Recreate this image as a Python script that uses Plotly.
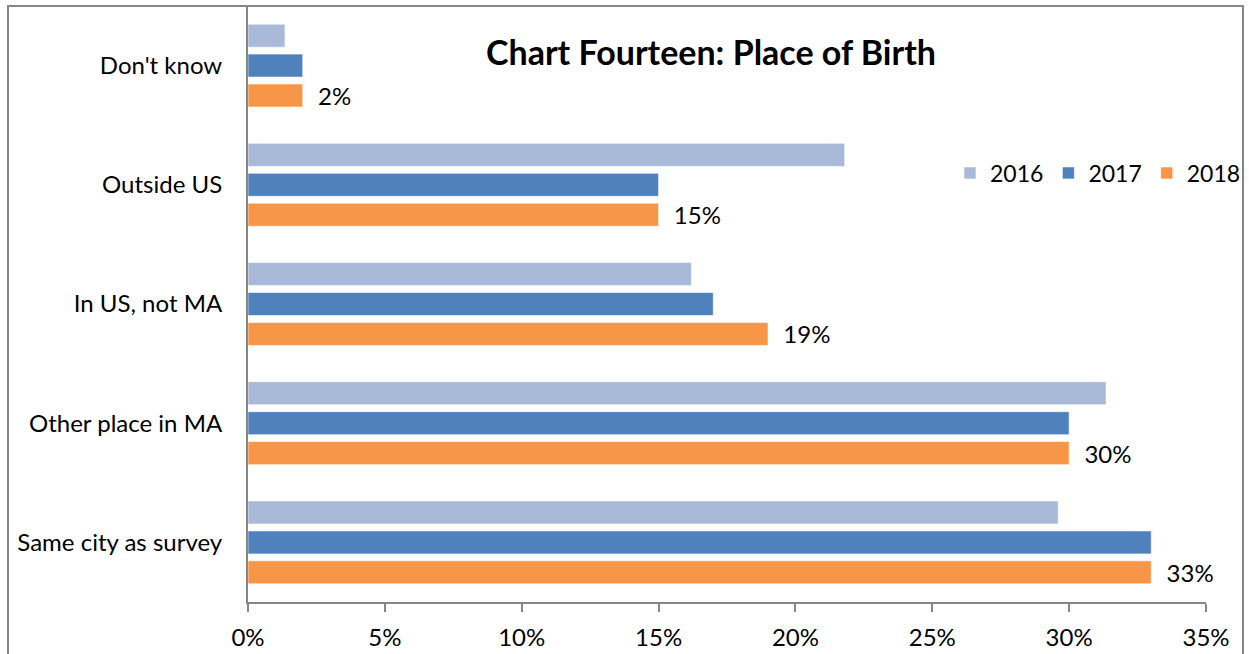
import plotly.graph_objects as go

categories = ["Don't know", "Outside US", "In US, not MA", "Other place in MA", "Same city as survey"]
years = ["2016", "2017", "2018"]
v2016 = [0.0135, 0.218, 0.162, 0.3135, 0.296]
v2017 = [0.020, 0.150, 0.170, 0.300, 0.330]
v2018 = [0.020, 0.150, 0.190, 0.300, 0.330]
labels2018 = ["2%", "15%", "19%", "30%", "33%"]
colors = ["#A9B9D8", "#4F81BD", "#F79646"]

FONT = "Lato, Carlito, 'Open Sans', sans-serif"
FS = 24

fig = go.Figure()
for name, vals, col in zip(years, [v2016, v2017, v2018], colors):
    kw = {}
    if name == "2018":
        kw = dict(text=["\u00a0\u00a0" + t for t in labels2018], textposition="outside",
                  textfont=dict(size=FS, color="#000000", family=FONT), cliponaxis=False)
    fig.add_trace(go.Bar(name=name, y=categories, x=vals, orientation="h",
                         marker=dict(color=col, line=dict(color="rgba(255,255,255,0.6)", width=1)),
                         **kw))

fig.update_layout(
    width=1249, height=654,
    margin=dict(l=248, r=43, t=6, b=52, autoexpand=False),
    barmode="group", bargap=0.247, bargroupgap=0.23,
    uniformtext=dict(minsize=FS, mode="show"),
    plot_bgcolor="white", paper_bgcolor="white",
    font=dict(family=FONT, size=FS, color="#000000"),
    title=dict(text="<b>Chart Fourteen: Place of Birth</b>", x=711 / 1249, xanchor="center",
               xref="container", y=1 - 53 / 654, yref="container", yanchor="middle",
               font=dict(size=34, family=FONT, color="#000000")),
    legend=dict(orientation="h", xref="container", yref="container",
                x=1246 / 1249, xanchor="right", y=1 - 173 / 654, yanchor="middle",
                font=dict(size=FS - 1, family=FONT), bgcolor="rgba(0,0,0,0)",
                itemwidth=30, traceorder="normal"),
    showlegend=True,
    shapes=[dict(type="rect", xref="paper", yref="paper", x0=-240 / 958, x1=995 / 958,
                 y0=-0.3, y1=1.0, line=dict(color="#868686", width=2), layer="below")],
)
fig.update_xaxes(range=[0, 0.35], dtick=0.05, tickformat=".0%", showgrid=False,
                 showline=True, linecolor="#868686", linewidth=2, ticks="outside",
                 ticklen=8, tickwidth=2, tickcolor="#868686", zeroline=False,
                 ticklabelstandoff=5,
                 tickfont=dict(size=FS, family=FONT, color="#000000"))
fig.update_yaxes(autorange="reversed", showgrid=False, showline=True, linecolor="#868686",
                 linewidth=2, ticks="", ticklabelstandoff=19,
                 tickfont=dict(size=FS, family=FONT, color="#000000"))

fig.write_html("out.html", config={"displayModeBar": False},
               post_script="document.body.style.margin='0';document.body.style.overflow='hidden';")
